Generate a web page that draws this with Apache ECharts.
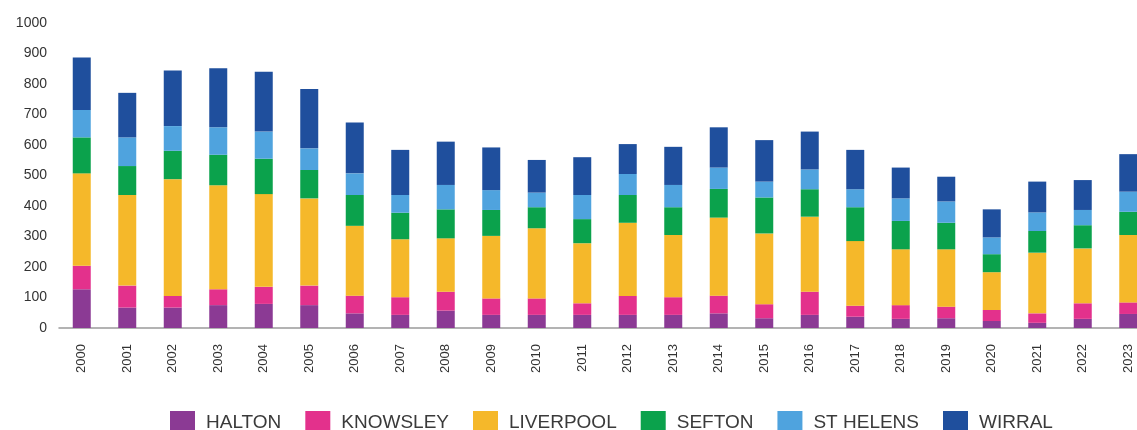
<!DOCTYPE html>
<html>
<head>
<meta charset="utf-8">
<script src="https://cdn.jsdelivr.net/npm/echarts@6/dist/echarts.min.js"></script>
<style>
  html, body { margin: 0; padding: 0; background: #fff; }
  #chart { width: 1137px; height: 430px; }
</style>
</head>
<body>
<div id="chart"></div>
<script>
// years on the x axis
const years = ['2000','2001','2002','2003','2004','2005','2006','2007','2008','2009','2010','2011',
               '2012','2013','2014','2015','2016','2017','2018','2019','2020','2021','2022','2023'];

// values per district
const halton    = [127, 67, 67, 75, 79, 75, 48, 43, 57, 43, 43, 43, 43, 43, 48, 32, 43, 37, 30, 32, 23, 17, 30, 46];
const knowsley  = [ 77, 72, 38, 52, 56, 64, 58, 58, 62, 54, 54, 38, 62, 58, 58, 46, 76, 36, 45, 38, 36, 31, 51, 38];
const liverpool = [303,297,383,341,304,286,229,190,175,205,230,197,240,204,256,232,246,212,183,188,124,199,180,221];
const sefton    = [118, 95, 93,100,116, 93,101, 87, 95, 85, 69, 79, 91, 91, 94,118, 90,111, 93, 87, 59, 71, 76, 76];
const stHelens  = [ 90, 94, 81, 90, 89, 71, 71, 58, 80, 65, 48, 79, 69, 73, 70, 52, 65, 59, 74, 70, 55, 61, 50, 66];
const wirral    = [172,146,182,194,196,195,167,148,142,140,107,124, 98,125,132,136,124,129,101, 81, 92,101, 98,123];

const names  = ['HALTON', 'KNOWSLEY', 'LIVERPOOL', 'SEFTON', 'ST HELENS', 'WIRRAL'];
const values = [halton, knowsley, liverpool, sefton, stHelens, wirral];
const colors = ['#8b3a94', '#e3318c', '#f5b82a', '#0ba24c', '#4fa3de', '#1f4f9d'];

const font = 'Liberation Sans, Arial, sans-serif';

let chart = echarts.init(document.getElementById('chart'));

chart.setOption({
  animation: false,
  color: colors,
  textStyle: { fontFamily: font },
  grid: { left: 59, right: -14, top: 23, bottom: 102, outerBoundsMode: 'none' },
  legend: {
    data: names,
    top: 406,
    left: 165,
    itemWidth: 25,
    itemHeight: 23,
    itemGap: 24,
    icon: 'rect',
    textStyle: { fontSize: 19, color: '#3a3a3a', fontFamily: font, padding: [0, 0, 0, 6] }
  },
  xAxis: {
    type: 'category',
    data: years,
    axisLine: { lineStyle: { color: '#9a9a9a', width: 1.5 } },
    axisTick: { show: false },
    axisLabel: { rotate: 90, margin: 16, fontSize: 13, color: '#333', fontFamily: font }
  },
  yAxis: {
    type: 'value',
    min: 0,
    max: 1000,
    interval: 100,
    axisLine: { show: false },
    axisTick: { show: false },
    splitLine: { show: false },
    axisLabel: {
      margin: 12, fontSize: 14, color: '#333', fontFamily: font,
      formatter: v => String(v)
    }
  },
  series: names.map((n, i) => ({
    name: n,
    type: 'bar',
    stack: 'total',
    barWidth: 18,
    data: values[i]
  }))
});

window.addEventListener('resize', () => {
  chart.resize();
});
</script>
</body>
</html>
